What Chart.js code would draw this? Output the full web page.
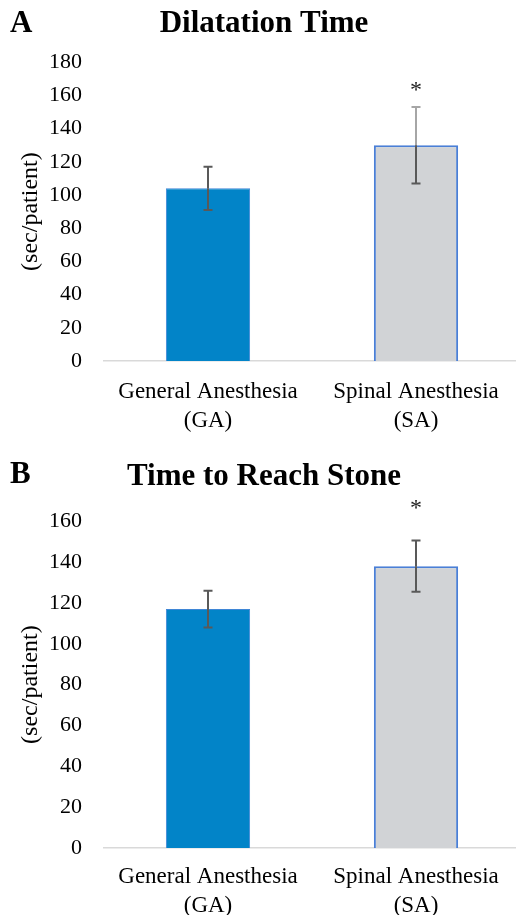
<!DOCTYPE html>
<html>
<head>
<meta charset="utf-8">
<script src="https://cdn.jsdelivr.net/npm/chart.js@4.4.1/dist/chart.umd.min.js"></script>
<style>
  html, body { margin: 0; padding: 0; background: #fff; overflow: hidden; width: 516px; height: 915px; }
  .panel { position: absolute; left: 0; }
  #panelA { top: 0; }
  #panelB { top: 445px; }
</style>
</head>
<body>
<div class="panel" id="panelA"><canvas id="chartA" width="524" height="445"></canvas></div>
<div class="panel" id="panelB"><canvas id="chartB" width="524" height="470"></canvas></div>
<script>
// groups on the x axis
const groups = [['General Anesthesia', '(GA)'], ['Spinal Anesthesia', '(SA)']];

// panel A - dilatation time (sec/patient)
const dilatationMeans = [104, 130];
const dilatationErrors = [13, 23];
const dilatationStars = [null, 166];
const dilatationTicks = [0, 20, 40, 60, 80, 100, 120, 140, 160, 180];

// panel B - time to reach stone (sec/patient)
const reachMeans = [117, 138];
const reachErrors = [9, 12.5];
const reachStars = [null, 169];
const reachTicks = [0, 20, 40, 60, 80, 100, 120, 140, 160];

const serif = "'Liberation Serif', 'Times New Roman', serif";

const errorBarPlugin = {
    id: 'errorBars',
    afterDatasetsDraw(chart, args, opts) {
        const ctx = chart.ctx;
        const y = chart.scales.y;
        const meta = chart.getDatasetMeta(0);
        const values = chart.data.datasets[0].data;
        ctx.save();
        ctx.lineWidth = 2;
        opts.errors.forEach((err, i) => {
            const cx = meta.data[i].x;
            const top = y.getPixelForValue(values[i] + err);
            const mid = y.getPixelForValue(values[i]);
            const bot = y.getPixelForValue(values[i] - err);
            // whisker above the bar
            ctx.strokeStyle = opts.upperColors[i];
            ctx.beginPath();
            ctx.moveTo(cx, top);
            ctx.lineTo(cx, mid);
            ctx.moveTo(cx - 4.5, top);
            ctx.lineTo(cx + 4.5, top);
            ctx.stroke();
            // whisker inside the bar
            ctx.strokeStyle = '#595959';
            ctx.beginPath();
            ctx.moveTo(cx, mid);
            ctx.lineTo(cx, bot);
            ctx.moveTo(cx - 4.5, bot);
            ctx.lineTo(cx + 4.5, bot);
            ctx.stroke();
        });
        // significance markers
        ctx.fillStyle = '#222';
        ctx.font = '24px ' + serif;
        ctx.textAlign = 'center';
        ctx.textBaseline = 'alphabetic';
        opts.stars.forEach((s, i) => {
            if (s === null) return;
            ctx.fillText('*', meta.data[i].x, y.getPixelForValue(s) + 12);
        });
        // panel letter
        ctx.fillStyle = '#000';
        ctx.font = 'bold 31px ' + serif;
        ctx.textAlign = 'left';
        ctx.fillText(opts.letter, 10, opts.letterY);
        ctx.restore();
    }
};

function makeChart(canvasId, cfg) {
    return new Chart(document.getElementById(canvasId), {
        type: 'bar',
        data: {
            labels: groups,
            datasets: [{
                data: cfg.means,
                backgroundColor: ['#0284c8', '#d1d3d6'],
                borderColor: ['#3f86d6', '#4a7fd6'],
                borderWidth: [1, 2],
                categoryPercentage: 1,
                barPercentage: 0.405
            }]
        },
        options: {
            responsive: false,
            animation: false,
            layout: { padding: { left: 8, right: 4, top: 0, bottom: 0 } },
            plugins: {
                legend: { display: false },
                tooltip: { enabled: false },
                title: {
                    display: true,
                    text: cfg.title,
                    color: '#000',
                    font: { family: serif, size: 31, weight: 'bold' },
                    padding: { top: cfg.titleTop, bottom: cfg.titleBottom }
                },
                errorBars: {
                    errors: cfg.errors,
                    upperColors: cfg.upperColors,
                    stars: cfg.stars,
                    letter: cfg.letter,
                    letterY: cfg.letterY
                }
            },
            scales: {
                x: {
                    grid: { display: false, drawTicks: false },
                    border: { display: true, color: '#d9d9d9', width: 1.5 },
                    ticks: {
                        color: '#000',
                        font: { family: serif, size: 23, lineHeight: 1.25 },
                        padding: cfg.xPad,
                        maxRotation: 0,
                        autoSkip: false
                    },
                    afterFit(scale) { scale.height = cfg.xHeight; }
                },
                y: {
                    min: 0,
                    max: cfg.ticks[cfg.ticks.length - 1],
                    afterBuildTicks(scale) { scale.ticks = cfg.ticks.map(v => ({ value: v })); },
                    grid: { display: false, drawTicks: false },
                    border: { display: false },
                    ticks: {
                        color: '#000',
                        font: { family: serif, size: 22 },
                        padding: 22
                    },
                    title: {
                        display: true,
                        text: '(sec/patient)',
                        color: '#000',
                        font: { family: serif, size: 24, lineHeight: 1.2 },
                        padding: { top: 8, bottom: 0 }
                    },
                    afterFit(scale) { scale.width = 96; }
                }
            }
        },
        plugins: [errorBarPlugin]
    });
}

makeChart('chartA', {
    title: 'Dilatation Time',
    means: dilatationMeans,
    errors: dilatationErrors,
    stars: dilatationStars,
    ticks: dilatationTicks,
    upperColors: ['#595959', '#a6a6a6'],
    letter: 'A',
    letterY: 32,
    titleTop: 5,
    titleBottom: 20,
    xHeight: 84,
    xPad: 17
});

makeChart('chartB', {
    title: 'Time to Reach Stone',
    means: reachMeans,
    errors: reachErrors,
    stars: reachStars,
    ticks: reachTicks,
    upperColors: ['#595959', '#595959'],
    letter: 'B',
    letterY: 38,
    titleTop: 13,
    titleBottom: 26,
    xHeight: 67,
    xPad: 15
});
</script>
</body>
</html>
